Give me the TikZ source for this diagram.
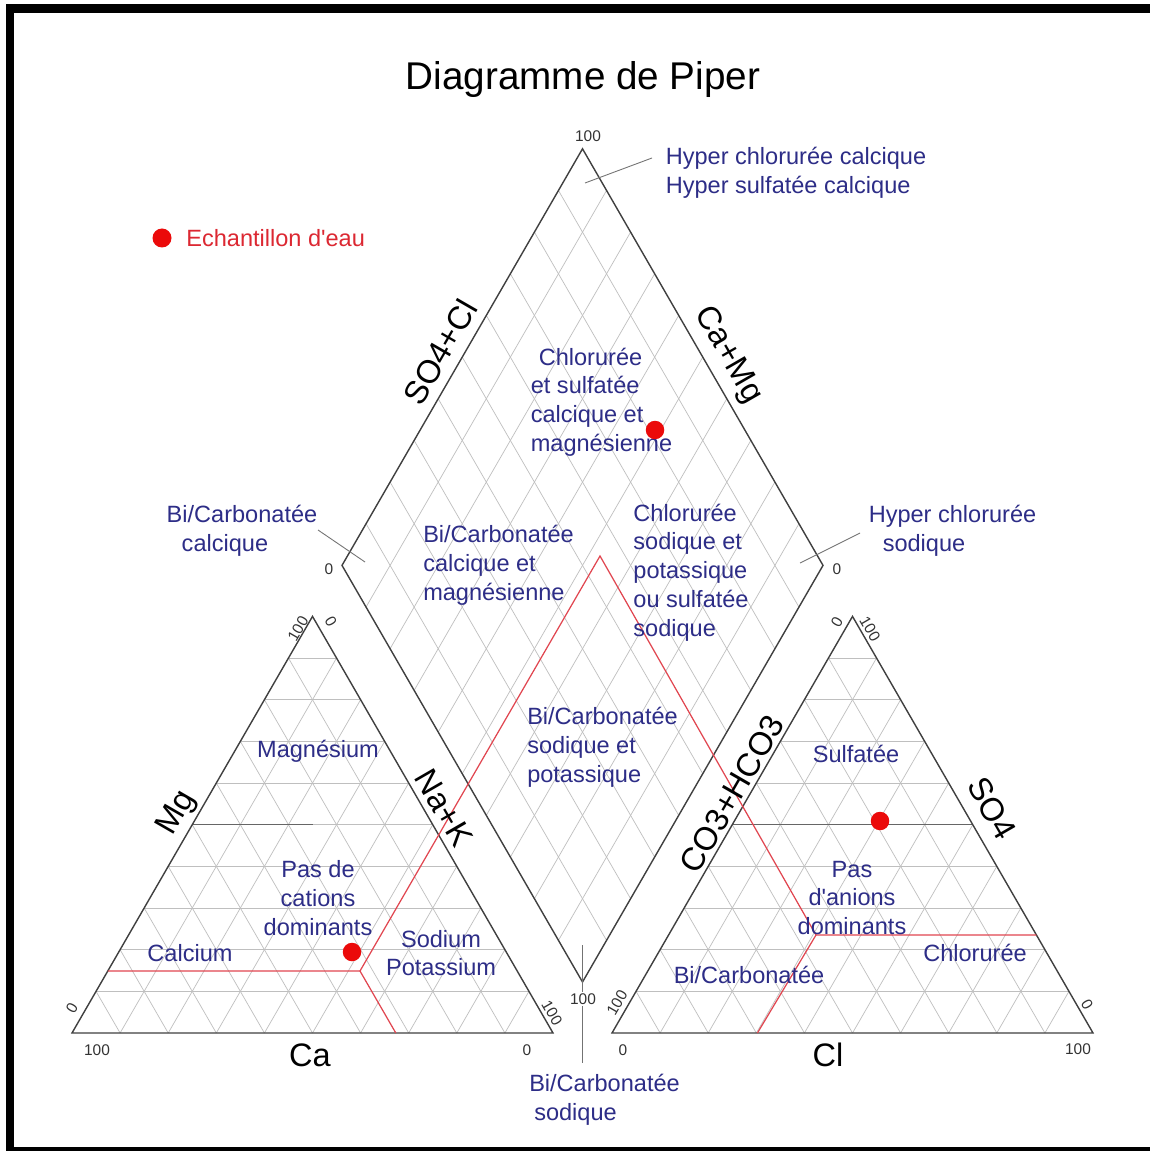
\documentclass[tikz,border=0pt]{standalone}
\usepackage{fontspec}
\setmainfont{Liberation Sans}[Ligatures=TeXOff]
\usetikzlibrary{calc}
\definecolor{zonebleu}{RGB}{45,45,135}
\definecolor{rougeech}{RGB}{235,10,10}
\definecolor{rougelim}{RGB}{225,70,80}
\definecolor{rougeleg}{RGB}{220,40,50}
\tikzset{
  axe/.style={draw=black!75, line width=0.8pt},
  grille/.style={draw=black!25, line width=0.4pt},
  moyen/.style={draw=black!60, line width=0.5pt},
  limite/.style={draw=rougelim, line width=0.7pt},
  renvoi/.style={draw=black!55, line width=0.5pt},
  zone/.style={text=zonebleu, font=\fontsize{13.4}{16.4}\selectfont, inner sep=0pt},
  grad/.style={text=black!80, font=\fontsize{8.8}{9}\selectfont, inner sep=0pt},
  nomaxe/.style={font=\fontsize{18.5}{19}\selectfont, inner sep=0pt},
  echant/.style={circle, fill=rougeech, minimum size=0.37cm, inner sep=0pt},
}
\begin{document}
\begin{tikzpicture}[x=0.02cm, y=-0.02cm]
\useasboundingbox (0,0) rectangle (1149,1151);
\fill[white] (0,0) rectangle (1149,1151);
\draw[line width=0.18cm] (10,8.5) rectangle (1160,1151.5);

% Sommets
\coordinate (A1) at (72,1033);   \coordinate (B1) at (553,1033);  \coordinate (C1) at (312.5,616.4);
\coordinate (A2) at (612,1033);  \coordinate (B2) at (1093,1033); \coordinate (C2) at (852.5,616.4);
\coordinate (L) at (342,565.4);  \coordinate (T) at (582.5,148.8);
\coordinate (R) at (823,565.4);  \coordinate (D) at (582.5,982);

% Grilles
\foreach \i in {1,...,9}{
  \draw[grille] ($(A1)!\i/10!(C1)$) -- ($(B1)!\i/10!(C1)$);
  \draw[grille] ($(A1)!\i/10!(B1)$) -- ($(C1)!\i/10!(B1)$);
  \draw[grille] ($(B1)!\i/10!(A1)$) -- ($(C1)!\i/10!(A1)$);
  \draw[grille] ($(A2)!\i/10!(C2)$) -- ($(B2)!\i/10!(C2)$);
  \draw[grille] ($(A2)!\i/10!(B2)$) -- ($(C2)!\i/10!(B2)$);
  \draw[grille] ($(B2)!\i/10!(A2)$) -- ($(C2)!\i/10!(A2)$);
  \draw[grille] ($(L)!\i/10!(T)$) -- ($(D)!\i/10!(R)$);
  \draw[grille] ($(L)!\i/10!(D)$) -- ($(T)!\i/10!(R)$);
}
\draw[moyen] ($(A1)!0.5!(C1)$) -- (312.5,824.7);
\draw[moyen] ($(A2)!0.5!(C2)$) -- ($(B2)!0.5!(C2)$);

% Contours
\draw[axe] (A1) -- (B1) -- (C1) -- cycle;
\draw[axe] (A2) -- (B2) -- (C2) -- cycle;
\draw[axe] (L) -- (T) -- (R) -- (D) -- cycle;

% Limites des faciès
\coordinate (P1) at (360,971);
\coordinate (sommet) at (600,556);
\coordinate (P2) at (816,935);
\draw[limite] (107.8,971) -- (P1) -- (395.8,1033);
\draw[limite] (P1) -- (sommet) -- (P2);
\draw[limite] (1036.4,935) -- (P2) -- (757.4,1033);

% Renvois
\draw[renvoi] (585,183) -- (652,158);
\draw[renvoi] (318,530) -- (365,562);
\draw[renvoi] (800,563) -- (860,533);
\draw[renvoi] (582.5,945) -- (582.5,1063);

% Graduations
\node[grad] (g1) at (588,136) {100};
\node[grad] (g2) at (329,569) {0};
\node[grad] (g3) at (837,569) {0};
\node[grad, fill=white, inner sep=1pt] (g4) at (583,999) {100};
\node[grad, rotate=60] (g5) at (298,629) {100};
\node[grad, rotate=-60] (g6) at (331,622) {0};
\node[grad, rotate=60] (g7) at (72,1008) {0};
\node[grad] (g8) at (97,1050) {100};
\node[grad] (g9) at (527,1050) {0};
\node[grad, rotate=-60] (g10) at (552,1013) {100};
\node[grad, rotate=60] (g11) at (837,622) {0};
\node[grad, rotate=-60] (g12) at (870,629) {100};
\node[grad, rotate=60] (g13) at (617,1003) {100};
\node[grad] (g14) at (623,1050) {0};
\node[grad] (g15) at (1078,1049) {100};
\node[grad, rotate=-60] (g16) at (1087,1005) {0};

% Axes
\node[nomaxe, rotate=60] (so4cl) at (440,352) {SO4+Cl};
\node[nomaxe, rotate=-60] (camg) at (728,355) {Ca+Mg};
\node[nomaxe, rotate=60] (mg) at (177,813) {Mg};
\node[nomaxe, rotate=-60] (nak) at (444,808) {Na+K};
\node[nomaxe] (ca) at (310,1055) {Ca};
\node[nomaxe, rotate=60] (co3) at (732,794) {CO3+HCO3};
\node[nomaxe, rotate=-60] (so4) at (992,808) {SO4};
\node[nomaxe] (cl) at (828,1055) {Cl};

% Titre et faciès
\node[font=\fontsize{22}{22}\selectfont, inner sep=0pt] (titre) at (583,80) {Diagramme de Piper};
\node[zone, align=left] (hypcal) at (796,172.5) {Hyper chlorurée calcique\\Hyper sulfatée calcique};
\node[zone, align=left] (chsul) at (601.5,402) {\hspace*{0.16cm}Chlorurée\\et sulfatée\\calcique et\\magnésienne};
\node[zone, align=left] (bicamg) at (498.5,565.5) {Bi/Carbonatée\\calcique et\\magnésienne};
\node[zone, align=left] (chsod) at (691,572.5) {Chlorurée\\sodique et\\potassique\\ou sulfatée\\sodique};
\node[zone, align=left] (bical) at (242,530.5) {Bi/Carbonatée\\\hspace*{0.3cm}calcique};
\node[zone, align=left] (hypsod) at (952.5,530.5) {Hyper chlorurée\\\hspace*{0.28cm}sodique};
\node[zone, align=left] (bisodk) at (602.5,747.5) {Bi/Carbonatée\\sodique et\\potassique};
\node[zone, align=left] (bisod) at (604.5,1099.5) {Bi/Carbonatée\\\hspace*{0.1cm}sodique};
\node[zone] (magn) at (318,751) {Magnésium};
\node[zone, align=center] (pascat) at (318,898) {Pas de\\cations\\dominants};
\node[zone] (calc) at (190,953) {Calcium};
\node[zone, align=center] (sodpot) at (441,953) {Sodium\\Potassium};
\node[zone] (sulf) at (856,754) {Sulfatée};
\node[zone, align=center] (pasan) at (852,898) {Pas\\d'anions\\dominants};
\node[zone] (chlor) at (975,953) {Chlorurée};
\node[zone] (bicarb) at (749,975) {Bi/Carbonatée};

% Echantillons
\node[echant] (ech1) at (655,430) {};
\node[echant] (ech2) at (352,952) {};
\node[echant] (ech3) at (880,821) {};
\node[echant, minimum size=0.38cm] (leg) at (162,238) {};
\node[zone, text=rougeleg, anchor=west] (legtxt) at (186,238) {Echantillon d'eau};
\end{tikzpicture}
\end{document}
